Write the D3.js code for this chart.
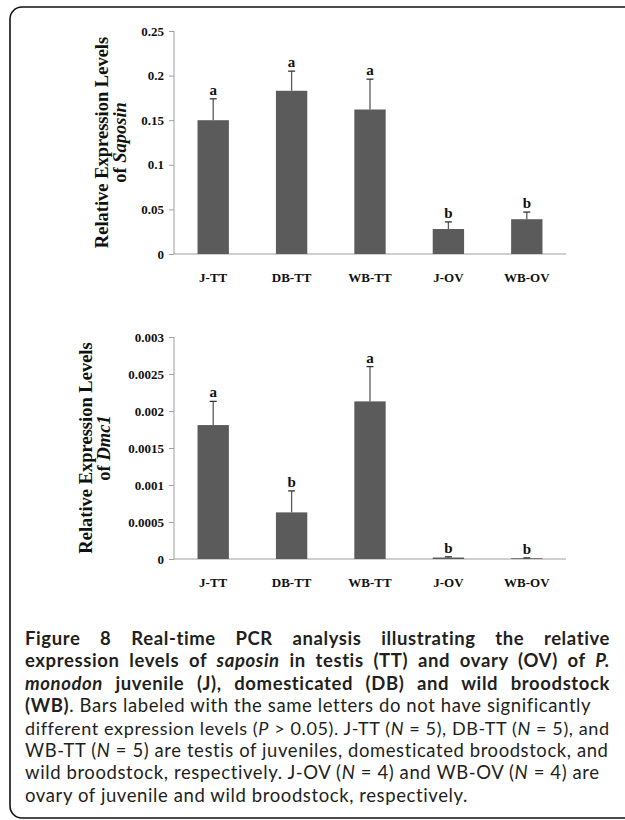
<!DOCTYPE html>
<html>
<head>
<meta charset="utf-8">
<script src="https://cdn.jsdelivr.net/npm/d3@7"></script>
<style>
  body { margin: 0; background: #fff; }
  #wrap { position: relative; width: 625px; height: 820px; overflow: hidden; }
  #caption { position: absolute; left: 25px; top: 627px; width: 585px;
             font-family: Lato, "Open Sans", sans-serif; font-size: 18.5px; line-height: 22.4px;
             letter-spacing: 0.6px; color: #231f20; }
  #caption .ln { white-space: nowrap; height: 22.4px; }
  #caption .just { white-space: normal; text-align: justify; text-align-last: justify; }
  #caption b { font-weight: 700; }
</style>
</head>
<body>
<div id="wrap"><svg id="fig" width="625" height="820"></svg><div id="caption"></div></div>
<script>
/*******************************************************************************
 * Data
 *******************************************************************************/
const categories = ['J-TT', 'DB-TT', 'WB-TT', 'J-OV', 'WB-OV'];

const saposinMeans   = [0.150, 0.183, 0.162, 0.028, 0.039];
const saposinErrors  = [0.024, 0.022, 0.034, 0.008, 0.008];
const saposinLetters = ['a', 'a', 'a', 'b', 'b'];
const saposinTicks   = [0, 0.05, 0.1, 0.15, 0.2, 0.25];

const dmc1Means   = [0.00181, 0.00063, 0.00213, 0.00002, 0.00001];
const dmc1Errors  = [0.00032, 0.00029, 0.00047, 0.00001, 0.000005];
const dmc1Letters = ['a', 'b', 'a', 'b', 'b'];
const dmc1Ticks   = [0, 0.0005, 0.001, 0.0015, 0.002, 0.0025, 0.003];

const captionLines = [
  {just: true,  html: '<b>Figure 8</b> <b>Real-time PCR analysis illustrating the relative</b>'},
  {just: true,  html: '<b>expression levels of <i>saposin</i> in testis (TT) and ovary (OV) of <i>P.</i></b>'},
  {just: true,  html: '<b><i>monodon</i> juvenile (J), domesticated (DB) and wild broodstock</b>'},
  {just: false, html: '<b>(WB)</b>. Bars labeled with the same letters do not have significantly'},
  {just: false, html: 'different expression levels (<i>P</i> &gt; 0.05). J-TT (<i>N</i> = 5), DB-TT (<i>N</i> = 5), and'},
  {just: false, html: 'WB-TT (<i>N</i> = 5) are testis of juveniles, domesticated broodstock, and'},
  {just: false, html: 'wild broodstock, respectively. J-OV (<i>N</i> = 4) and WB-OV (<i>N</i> = 4) are'},
  {just: false, html: 'ovary of juvenile and wild broodstock, respectively.'}
];

const barColor = '#5b5b5b';
const axisColor = '#a0a0a0';
const serif = '"Liberation Serif", "Times New Roman", serif';

let svg = d3.select('#fig');

// frame of the figure box, open to the right
svg.append('rect')
  .attr('x', 10).attr('y', 7)
  .attr('width', 650).attr('height', 811)
  .attr('rx', 12)
  .attr('fill', 'none')
  .attr('stroke', '#111')
  .attr('stroke-width', 1.6);

/**
 * Draws one bar chart with upper error bars and significance letters.
 */
function drawPanel(opts) {
  let x = d3.scaleBand()
    .domain(categories)
    .range([174, 566])
    .paddingInner(0.6)
    .paddingOuter(0.3);

  let y = d3.scaleLinear()
    .domain([0, opts.ticks[opts.ticks.length - 1]])
    .range([opts.bottom, opts.top]);

  let g = svg.append('g');

  // y axis
  let yAxis = g.append('g')
    .attr('transform', `translate(174,0)`)
    .call(d3.axisLeft(y).tickValues(opts.ticks).tickFormat(d => String(d)).tickSize(5).tickPadding(5));
  yAxis.select('.domain').attr('stroke', axisColor).attr('d', `M0,${opts.top}V${opts.bottom}`);
  yAxis.selectAll('.tick line').attr('stroke', axisColor);
  yAxis.selectAll('.tick text')
    .attr('fill', '#111')
    .style('font-family', serif)
    .style('font-weight', 'bold')
    .style('font-size', '13px');

  // x axis
  let xAxis = g.append('g')
    .attr('transform', `translate(0,${opts.bottom})`)
    .call(d3.axisBottom(x).tickSize(0).tickPadding(19));
  xAxis.select('.domain').attr('stroke', axisColor).attr('d', `M174,0H566`);
  xAxis.selectAll('.tick text')
    .attr('fill', '#111')
    .style('font-family', serif)
    .style('font-weight', 'bold')
    .style('font-size', '13px');

  let data = categories.map((c, i) => ({c: c, v: opts.means[i], e: opts.errors[i], l: opts.letters[i]}));

  // bars
  g.selectAll('rect.bar').data(data).enter().append('rect')
    .attr('class', 'bar')
    .attr('x', d => x(d.c))
    .attr('width', x.bandwidth())
    .attr('y', d => y(d.v))
    .attr('height', d => y(0) - y(d.v))
    .attr('fill', barColor);

  // error bars (upper only)
  g.selectAll('line.err').data(data).enter().append('line')
    .attr('class', 'err')
    .attr('x1', d => x(d.c) + x.bandwidth() / 2)
    .attr('x2', d => x(d.c) + x.bandwidth() / 2)
    .attr('y1', d => y(d.v))
    .attr('y2', d => y(d.v + d.e))
    .attr('stroke', barColor).attr('stroke-width', 1.3);
  g.selectAll('line.cap').data(data).enter().append('line')
    .attr('class', 'cap')
    .attr('x1', d => x(d.c) + x.bandwidth() / 2 - 3.5)
    .attr('x2', d => x(d.c) + x.bandwidth() / 2 + 3.5)
    .attr('y1', d => y(d.v + d.e))
    .attr('y2', d => y(d.v + d.e))
    .attr('stroke', '#333').attr('stroke-width', 1.3);

  // significance letters
  g.selectAll('text.sig').data(data).enter().append('text')
    .attr('class', 'sig')
    .attr('x', d => x(d.c) + x.bandwidth() / 2)
    .attr('y', d => y(d.v + d.e) - 4)
    .attr('text-anchor', 'middle')
    .style('font-family', serif)
    .style('font-weight', 'bold')
    .style('font-size', '15px')
    .attr('fill', '#111')
    .text(d => d.l);

  // y title, two lines rotated
  let mid = (opts.top + opts.bottom) / 2;
  let title = g.append('text')
    .attr('transform', `translate(${opts.titleX},${mid}) rotate(-90)`)
    .attr('text-anchor', 'middle')
    .style('font-family', serif)
    .style('font-weight', 'bold')
    .style('font-size', '18.5px')
    .attr('fill', '#111');
  title.append('tspan').attr('x', 0).attr('y', 0).text('Relative Expression Levels');
  let l2 = title.append('tspan').attr('x', 0).attr('dy', 18);
  l2.append('tspan').text('of ');
  l2.append('tspan').style('font-style', 'italic').text(opts.gene);
}

drawPanel({top: 31, bottom: 254, ticks: saposinTicks, means: saposinMeans,
           errors: saposinErrors, letters: saposinLetters, gene: 'Saposin', titleX: 108});
drawPanel({top: 337, bottom: 559, ticks: dmc1Ticks, means: dmc1Means,
           errors: dmc1Errors, letters: dmc1Letters, gene: 'Dmc1', titleX: 92});

// caption: one div per printed line, so the line breaks follow the figure
let lines = d3.select('#caption').selectAll('div').data(captionLines).enter().append('div')
  .attr('class', 'ln')
  .html(d => `<span>${d.html}</span>`);

// shrink a line a little if the font runs wider than the column, then justify
lines.each(function(d) {
  let span = this.querySelector('span');
  let w = span.getBoundingClientRect().width;
  if (w > 584) this.style.fontSize = (18.5 * 584 / w).toFixed(2) + 'px';
  if (d.just) this.classList.add('just');
});
</script>
</body>
</html>
